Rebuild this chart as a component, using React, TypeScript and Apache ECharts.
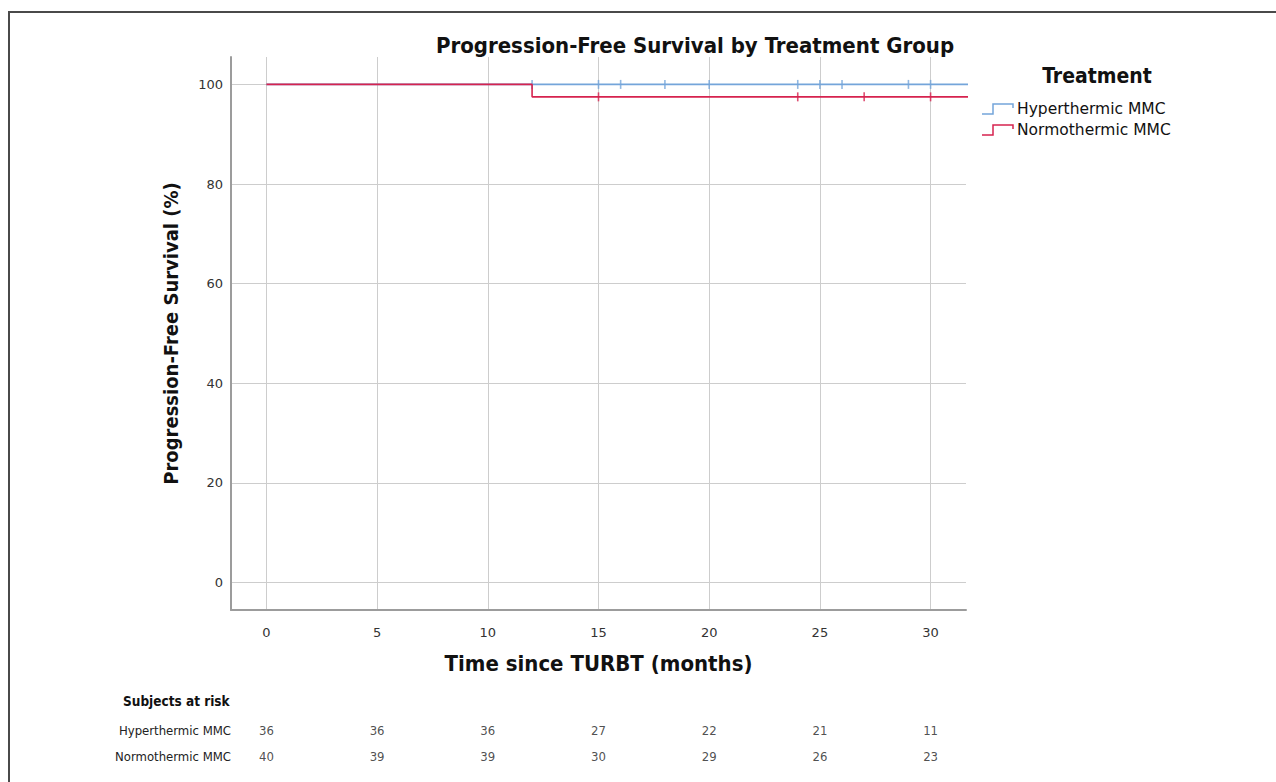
import React, { useEffect, useRef } from "react";
import * as echarts from "echarts";

const TITLE = "Progression-Free Survival by Treatment Group";
const X_NAME = "Time since TURBT (months)";
const Y_NAME = "Progression-Free Survival (%)";
const LEGEND_TITLE = "Treatment";
const RISK_TITLE = "Subjects at risk";
const GROUPS = ["Hyperthermic MMC", "Normothermic MMC"];
const COLORS = ["#74a5da", "#d6234f"];

const X_TICKS = [0, 5, 10, 15, 20, 25, 30];
const Y_TICKS = [0, 20, 40, 60, 80, 100];

// Kaplan-Meier step curves (time, survival %)
const hyperTimes = [0, 32.5];
const hyperSurv = [100, 100];
const normoTimes = [0, 12, 12, 32.5];
const normoSurv = [100, 100, 97.5, 97.5];

// censoring times
const hyperCensor = [12, 15, 16, 18, 20, 24, 25, 26, 29, 30];
const normoCensor = [15, 24, 27, 30];

// numbers at risk
const riskTimes = [0, 5, 10, 15, 20, 25, 30];
const hyperAtRisk = [36, 36, 36, 27, 22, 21, 11];
const normoAtRisk = [40, 39, 39, 30, 29, 26, 23];

const BOLD_FONT = "'DejaVu Sans Condensed', 'DejaVu Sans', sans-serif";
const PLAIN_FONT = "'DejaVu Sans', sans-serif";
const NARROW_FONT = "'Liberation Sans Narrow', 'DejaVu Sans Condensed', 'Liberation Sans', sans-serif";

function survAt(times: number[], surv: number[], t: number): number {
  let v = surv[0];
  for (let i = 0; i < times.length; i++) {
    if (times[i] <= t) v = surv[i];
  }
  return v;
}

function pairs(a: number[], b: number[]) {
  return a.map((t, i) => [t, b[i]]);
}

export default function App() {
  const ref = useRef<HTMLDivElement>(null);
  useEffect(() => {
    const chart = echarts.init(ref.current!, null, { renderer: "svg" });
    const curves = [
      { times: hyperTimes, surv: hyperSurv, censor: hyperCensor },
      { times: normoTimes, surv: normoSurv, censor: normoCensor },
    ];
    const series: any[] = [];
    curves.forEach((c, i) => {
      series.push({
        name: GROUPS[i],
        type: "line",
        xAxisIndex: 0,
        yAxisIndex: 0,
        data: pairs(c.times, c.surv),
        showSymbol: false,
        symbol: "none",
        lineStyle: { color: COLORS[i], width: 1.6 },
        itemStyle: { color: COLORS[i] },
        z: 3 + i * 2,
        silent: true,
      });
      series.push({
        name: GROUPS[i] + " censored",
        type: "scatter",
        xAxisIndex: 0,
        yAxisIndex: 0,
        data: c.censor.map((t) => [t, survAt(c.times, c.surv, t)]),
        symbol: "rect",
        symbolSize: [1.6, 9],
        itemStyle: { color: COLORS[i] },
        z: 4 + i * 2,
        silent: true,
      });
    });
    const riskRows = [hyperAtRisk, normoAtRisk];
    riskRows.forEach((row, r) => {
      series.push({
        name: GROUPS[r] + " at risk",
        type: "scatter",
        xAxisIndex: 1,
        yAxisIndex: 1,
        data: riskTimes.map((t, i) => [t, GROUPS[r], row[i]]),
        symbolSize: 1,
        itemStyle: { color: "rgba(0,0,0,0)" },
        label: {
          show: true,
          position: "inside",
          formatter: (p: any) => String(p.value[2]),
          fontSize: 13,
          fontFamily: NARROW_FONT,
          color: "#222",
        },
        silent: true,
      });
    });

    const legendGraphics: any[] = [];
    legendGraphics.push({
      type: "text",
      x: 1097,
      y: 76,
      style: {
        text: LEGEND_TITLE,
        fontSize: 21,
        fontWeight: "bold",
        fontFamily: BOLD_FONT,
        fill: "#111",
        textAlign: "center",
        textVerticalAlign: "middle",
      },
    });
    GROUPS.forEach((g, i) => {
      const y = 109 + i * 21;
      legendGraphics.push({
        type: "polyline",
        shape: {
          points: [
            [982, y + 5],
            [993, y + 5],
            [993, y - 5],
            [1013, y - 5],
            [1013, y - 1],
          ],
        },
        style: { stroke: COLORS[i], lineWidth: 1.5, fill: "none" },
      });
      legendGraphics.push({
        type: "text",
        x: 1017,
        y,
        style: {
          text: g,
          fontSize: 15.5,
          fontFamily: PLAIN_FONT,
          fill: "#111",
          textAlign: "left",
          textVerticalAlign: "middle",
        },
      });
    });

    const option: any = {
      animation: false,
      backgroundColor: "#ffffff",
      title: {
        text: TITLE,
        left: 690,
        top: 29,
        textAlign: "center",
        textStyle: {
          fontSize: 22,
          fontWeight: "bold",
          fontFamily: BOLD_FONT,
          color: "#111",
        },
      },
      grid: [
        { left: 231, right: 310, top: 57, bottom: 172, containLabel: false },
        { left: 231, right: 310, top: 717, height: 52, containLabel: false },
      ],
      xAxis: [
        {
          type: "value",
          gridIndex: 0,
          min: -1.6,
          max: 31.6,
          name: X_NAME,
          nameLocation: "middle",
          nameGap: 42,
          nameTextStyle: {
            fontSize: 22,
            fontWeight: "bold",
            fontFamily: BOLD_FONT,
            color: "#111",
          },
          axisLine: { show: true, onZero: false, lineStyle: { color: "#9c9c9c", width: 2 } },
          axisTick: { show: false, customValues: X_TICKS },
          axisLabel: {
            customValues: X_TICKS,
            margin: 16,
            fontSize: 13,
            fontFamily: PLAIN_FONT,
            color: "#333",
          },
          splitLine: { show: true, lineStyle: { color: "#cdcdcd", width: 1 } },
        },
        {
          type: "value",
          gridIndex: 1,
          min: -1.6,
          max: 31.6,
          show: false,
        },
      ],
      yAxis: [
        {
          type: "value",
          gridIndex: 0,
          min: -5.5,
          max: 105.5,
          name: Y_NAME,
          nameLocation: "middle",
          nameGap: 50,
          nameTextStyle: {
            fontSize: 20,
            fontWeight: "bold",
            fontFamily: BOLD_FONT,
            color: "#111",
          },
          axisLine: { show: true, onZero: false, lineStyle: { color: "#9c9c9c", width: 2 } },
          axisTick: { show: false, customValues: Y_TICKS },
          axisLabel: {
            customValues: Y_TICKS,
            margin: 8,
            fontSize: 13,
            fontFamily: PLAIN_FONT,
            color: "#333",
          },
          splitLine: { show: true, lineStyle: { color: "#cdcdcd", width: 1 } },
        },
        {
          type: "category",
          gridIndex: 1,
          data: [GROUPS[1], GROUPS[0]],
          inverse: false,
          axisLine: { show: false },
          axisTick: { show: false },
          splitLine: { show: false },
          axisLabel: {
            margin: 0,
            fontSize: 13,
            fontFamily: NARROW_FONT,
            color: "#222",
          },
        },
      ],
      graphic: [
        {
          type: "rect",
          shape: { x: 9, y: 12, width: 1400, height: 900 },
          style: { fill: "none", stroke: "#4a4a4a", lineWidth: 2 },
          silent: true,
        },
        {
          type: "text",
          x: 123,
          y: 701,
          style: {
            text: RISK_TITLE,
            fontSize: 13.5,
            fontWeight: "bold",
            fontFamily: NARROW_FONT,
            fill: "#111",
            textAlign: "left",
            textVerticalAlign: "middle",
          },
        },
        ...legendGraphics,
      ],
      series,
    };
    chart.setOption(option);
    return () => chart.dispose();
  }, []);
  return (
    <div
      ref={ref}
      style={{ position: "absolute", left: 0, top: 0, width: 1276, height: 782, background: "#fff" }}
    />
  );
}
